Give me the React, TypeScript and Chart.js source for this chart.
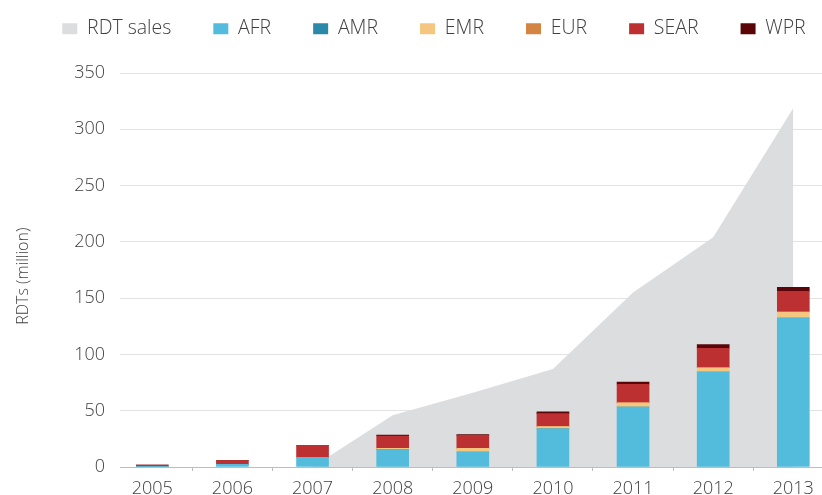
import { useEffect, useRef } from 'react';
import { Chart, registerables } from 'chart.js';

Chart.register(...registerables);

const years = [2005, 2006, 2007, 2008, 2009, 2010, 2011, 2012, 2013];
const rdtSales = [null, null, 0, 46, 66, 87, 155, 204, 319];
const afr = [0.2, 2.4, 8.6, 15.5, 13.3, 33.8, 53.3, 84.4, 132.4];
const amr = [0, 0, 0, 0, 0, 0, 0, 0, 0];
const emr = [0, 0, 0, 1.0, 3.3, 2.1, 3.6, 3.8, 5.3];
const eur = [0, 0, 0, 0, 0, 0, 0, 0, 0];
const sear = [1.6, 3.2, 10.7, 11.0, 11.5, 11.5, 16.6, 17.2, 18.4];
const wpr = [0, 0, 0, 0.8, 0.8, 1.5, 2.0, 3.3, 3.5];
const yTicks = [0, 50, 100, 150, 200, 250, 300, 350];

const FONT = "'Open Sans', sans-serif";
const TEXT = '#404040';
const LEGEND_FONT = 19.5;
const LEGEND_PAD = 42;
const LEGEND_TOP = 19 - LEGEND_PAD;
const LEGEND_SHIFT = 23;
const LEGEND_SLACK = 80;

const legendTweak = {
  id: 'legendTweak',
  beforeLayout(chart: any) {
    const lg = chart.legend;
    if (lg && !lg.__patched) {
      const orig = lg.fit;
      lg.fit = function () {
        this.maxWidth = 2000;
        orig.call(this);
        this.height = 73 - LEGEND_TOP;
      };
      lg.__patched = true;
    }
  },
  afterLayout(chart: any) {
    const lg = chart.legend;
    if (lg) {
      lg.left += LEGEND_SHIFT - LEGEND_SLACK;
      lg.right += LEGEND_SHIFT + LEGEND_SLACK;
    }
  },
};

const pts = (arr: (number | null)[]) => years.map((x, i) => ({ x, y: arr[i] }));

export default function App() {
  const ref = useRef<HTMLCanvasElement | null>(null);
  useEffect(() => {
    if (!ref.current) return;
    const bar = (label: string, data: number[], color: string) => ({
      type: 'bar' as const,
      label,
      data: pts(data),
      backgroundColor: color,
      borderWidth: 0,
      barThickness: 32,
      stack: 'regions',
      order: 1,
    });
    const chart = new Chart(ref.current, {
      type: 'bar',
      data: {
        datasets: [
          {
            type: 'line' as const,
            label: 'RDT sales',
            data: pts(rdtSales) as any,
            backgroundColor: '#dcdddf',
            borderColor: '#dcdddf',
            borderWidth: 0,
            pointRadius: 0,
            fill: 'origin',
            stack: 'sales',
            order: 5,
            tension: 0,
          } as any,
          bar('AFR', afr, '#53bcdc'),
          bar('AMR', amr, '#2a89a8'),
          bar('EMR', emr, '#f5c680'),
          bar('EUR', eur, '#d58543'),
          bar('SEAR', sear, '#bc3031'),
          bar('WPR', wpr, '#5a0609'),
        ],
      },
      options: {
        responsive: false,
        animation: false,
        layout: { padding: { top: LEGEND_TOP, left: 0, right: 0, bottom: 0 } },
        plugins: {
          legend: {
            position: 'top',
            labels: {
              boxWidth: 15,
              boxHeight: 11,
              padding: LEGEND_PAD,
              color: TEXT,
              font: { family: FONT, size: LEGEND_FONT, weight: '300' as any },
              sort: (a: any, b: any) => a.datasetIndex - b.datasetIndex,
            },
          },
          tooltip: { enabled: false },
        },
        scales: {
          x: {
            type: 'linear',
            min: 2004.597,
            max: 2013.358,
            offset: false,
            afterFit: (s: any) => {
              s.height = 28;
            },
            afterBuildTicks: (s: any) => {
              s.ticks = years.map((v) => ({ value: v }));
            },
            ticks: {
              stepSize: 1,
              includeBounds: false,
              autoSkip: false,
              maxRotation: 0,
              padding: 7,
              color: TEXT,
              font: { family: FONT, size: 18, weight: '300' as any },
              callback: (v: any) => String(v),
            },
            grid: { drawOnChartArea: false, drawTicks: true, tickLength: 4, color: '#bdbdbd' },
            border: { display: true, color: '#bdbdbd', width: 1 },
          },
          y: {
            stacked: true,
            min: 0,
            max: 350,
            afterFit: (s: any) => {
              s.width = 120;
            },
            afterBuildTicks: (s: any) => {
              s.ticks = yTicks.map((v) => ({ value: v }));
            },
            ticks: {
              padding: 15,
              color: TEXT,
              font: { family: FONT, size: 18, weight: '300' as any },
            },
            grid: { color: '#e3e3e3', lineWidth: 1, drawTicks: false },
            border: { display: false },
            title: {
              display: true,
              text: 'RDTs (million)\u00a0\u00a0\u00a0',
              color: TEXT,
              padding: { top: 14, bottom: 0 },
              font: { family: FONT, size: 16, weight: '300' as any },
            },
          },
        },
      },
      plugins: [legendTweak],
    });
    return () => chart.destroy();
  }, []);
  return (
    <div style={{ position: 'absolute', left: 0, top: 0, width: 822, height: 495 }}>
      <canvas ref={ref} width={822} height={495} />
    </div>
  );
}
